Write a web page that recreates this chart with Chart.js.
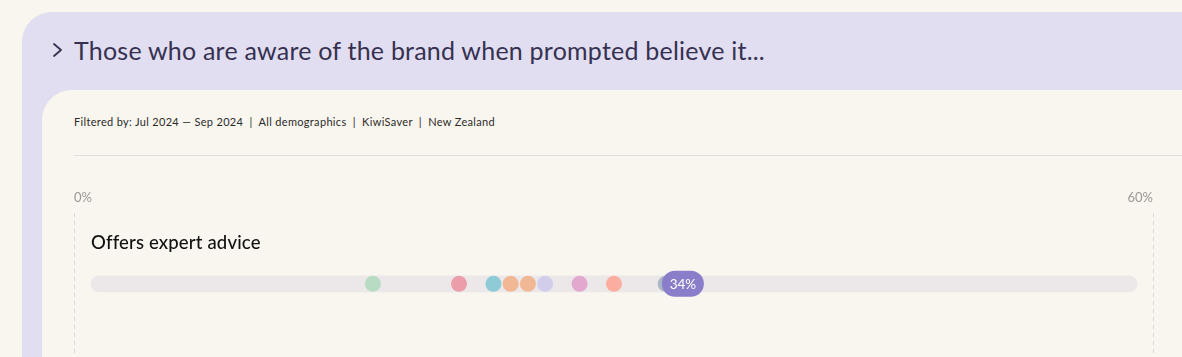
<!DOCTYPE html>
<html>
<head>
<meta charset="utf-8">
<script src="https://cdn.jsdelivr.net/npm/chart.js@4.4.1/dist/chart.umd.min.js"></script>
<style>
  html, body { margin: 0; padding: 0; width: 1182px; height: 357px; overflow: hidden; background: #f9f6ef; font-family: Lato, "Noto Sans", sans-serif; }
  .outer { position: absolute; left: 22px; top: 12px; width: 1300px; height: 500px; background: #e1def1; border-radius: 30px; }
  .inner { position: absolute; left: 42px; top: 90px; width: 1300px; height: 500px; background: #f9f6ef; border-radius: 30px; }
  .title { position: absolute; left: 74px; top: 35px; font-size: 25px; line-height: 30px; color: #363150; white-space: nowrap; font-weight: 400; }
  .filter { position: absolute; left: 74px; top: 115px; font-size: 11px; line-height: 13px; color: #2a2a2a; white-space: nowrap; font-weight: 400; }
  .rule { position: absolute; left: 74px; top: 155px; width: 1110px; height: 1px; background: #e2dfdb; }
  svg.chev { position: absolute; left: 50px; top: 40px; }
  canvas { position: absolute; left: 0; top: 170px; }
</style>
</head>
<body>
<div class="outer"></div>
<svg class="chev" width="16" height="20"><polyline points="4,4 11,10 4,16" fill="none" stroke="#363150" stroke-width="1.8" stroke-linecap="round" stroke-linejoin="round"/></svg>
<div class="title" id="title">Those who are aware of the brand when prompted believe it...</div>
<div class="inner"></div>
<div class="filter" id="filter">Filtered by: Jul 2024 — Sep 2024&nbsp; |&nbsp; All demographics&nbsp; |&nbsp; KiwiSaver&nbsp; |&nbsp; New Zealand</div>
<div class="rule"></div>
<canvas id="c" width="1182" height="193"></canvas>
<script>
// ---- data ----
const categories = ['Offers expert advice'];
const competitorValues = [16, 21, 23, 24, 25, 26, 28, 30, 33];
const brandValues = [34];
const tickValues = [0, 60];
const axisMin = 0;
const axisMax = 60;

// ---- styles ----
const competitorColors = ['#b8dcc3', '#eb9ea9', '#8ecbd7', '#f0b895', '#f0b895', '#d3cdec', '#e2a8cd', '#fbad9f', '#aab6c4'];
const brandColor = '#8a7dc9';
const trackColor = '#ece8e9';

// fit headline widths to reference
function fitWidth(id, target) {
  const el = document.getElementById(id);
  el.style.display = 'inline-block';
  const w = el.getBoundingClientRect().width;
  const n = el.textContent.length;
  el.style.letterSpacing = ((target - w) / n) + 'px';
}
fitWidth('title', 691);
fitWidth('filter', 421);

const CHART_LEFT = 74, CHART_RIGHT = 1153, INSET_L = 23.4, INSET_R = 22.4, TRACK_PAD = 6.4;
const innerW = (CHART_RIGHT - CHART_LEFT) - INSET_L - INSET_R;
const perPx = (axisMax - axisMin) / innerW;

const trackPlugin = {
  id: 'trackPad',
  afterDatasetUpdate(chart, args) {
    if (args.index !== 0) return;
    args.meta.data.forEach(el => { el.base -= TRACK_PAD; el.x += TRACK_PAD; });
  }
};

const labelPlugin = {
  id: 'labels',
  afterDatasetsDraw(chart) {
    const ctx = chart.ctx;
    const y = chart.scales.y;
    const track = chart.getDatasetMeta(0).data;
    ctx.save();
    categories.forEach((c, i) => {
      const py = y.getPixelForValue(i);
      ctx.font = '500 18.5px Lato, "Noto Sans", sans-serif';
      ctx.letterSpacing = '0px';
      const w = ctx.measureText(c).width;
      ctx.letterSpacing = ((169 - w) / c.length) + 'px';
      ctx.fillStyle = '#111';
      ctx.textAlign = 'left';
      ctx.textBaseline = 'middle';
      ctx.fillText(c, track[i].base, py - 41);
    });
    ctx.letterSpacing = '0px';
    const meta = chart.getDatasetMeta(2);
    meta.data.forEach((pt, i) => {
      const w = 42, h = 26, r = 13;
      ctx.beginPath();
      ctx.roundRect(pt.x - w / 2, pt.y - h / 2, w, h, r);
      ctx.fillStyle = brandColor;
      ctx.fill();
      ctx.fillStyle = '#fff';
      ctx.font = '13.5px Lato, "Noto Sans", sans-serif';
      ctx.textAlign = 'center';
      ctx.textBaseline = 'middle';
      ctx.fillText(brandValues[i] + '%', pt.x, pt.y + 0.5);
    });
    ctx.restore();
  }
};

new Chart(document.getElementById('c'), {
  type: 'scatter',
  data: {
    labels: categories,
    datasets: [
      {
        type: 'bar',
        indexAxis: 'y',
        data: categories.map(() => [axisMin, axisMax]),
        xAxisID: 'xd', yAxisID: 'y',
        backgroundColor: trackColor,
        barThickness: 16,
        borderRadius: 8,
        borderSkipped: false,
        order: 3
      },
      {
        type: 'scatter',
        data: competitorValues.map(v => ({ x: v, y: categories[0] })),
        xAxisID: 'xd', yAxisID: 'y',
        pointRadius: 8,
        pointHoverRadius: 8,
        pointBorderWidth: 0,
        pointBackgroundColor: competitorColors,
        order: 2
      },
      {
        type: 'scatter',
        data: brandValues.map(v => ({ x: v, y: categories[0] })),
        xAxisID: 'xd', yAxisID: 'y',
        pointRadius: 0,
        pointHoverRadius: 0,
        order: 1
      }
    ]
  },
  options: {
    responsive: false,
    animation: false,
    events: [],
    layout: { padding: { left: CHART_LEFT, right: 1182 - CHART_RIGHT, top: 13, bottom: 0 } },
    plugins: { legend: { display: false }, tooltip: { enabled: false } },
    scales: {
      x: {
        type: 'linear',
        position: 'top',
        min: axisMin, max: axisMax,
        afterBuildTicks: s => { s.ticks = tickValues.map(v => ({ value: v })); },
        ticks: {
          align: 'inner',
          padding: 7,
          color: '#9a9696',
          font: { family: 'Lato', size: 13 },
          callback: v => v + '%'
        },
        grid: { drawTicks: false, color: '#ddd8d7', lineWidth: 1 },
        border: { display: false, dash: [4, 4] }
      },
      xd: {
        type: 'linear',
        display: false,
        min: axisMin - INSET_L * perPx,
        max: axisMax + INSET_R * perPx
      },
      y: {
        type: 'category',
        labels: categories,
        display: false,
        offset: true
      }
    }
  },
  plugins: [trackPlugin, labelPlugin]
});
</script>
</body>
</html>
